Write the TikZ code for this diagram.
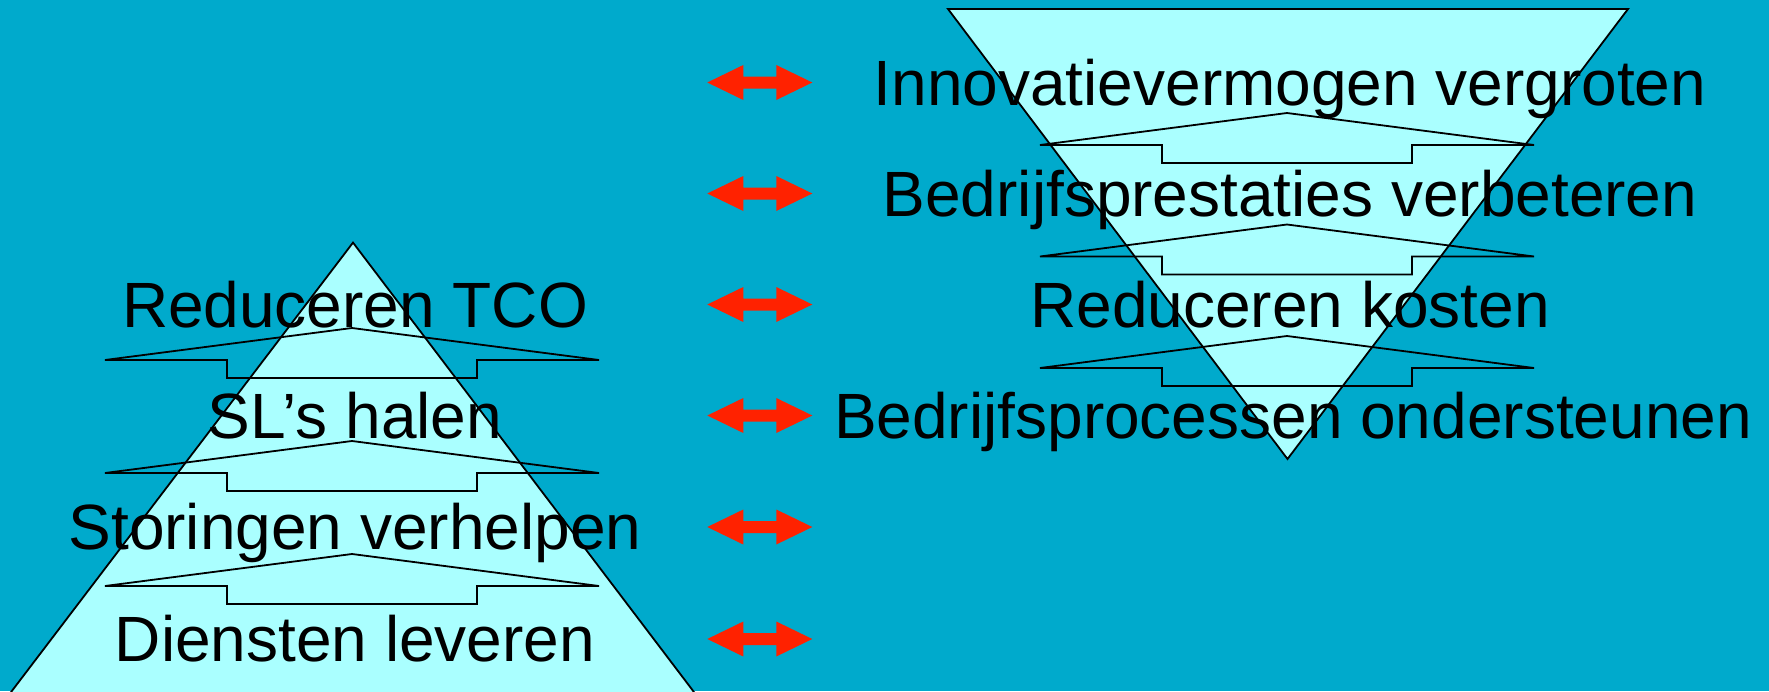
\documentclass[tikz,border=0pt]{standalone}
\usepackage{fontspec}
\setmainfont{Liberation Sans}
\definecolor{bg}{RGB}{0,170,204}
\definecolor{pale}{RGB}{170,255,255}
\definecolor{redarr}{RGB}{255,34,0}
\newcommand\levelarrow[2]{%
  \draw[levelshape] (#1,#2) -- ++(247,32) -- ++(-122,0) -- ++(0,18) -- ++(-250,0) -- ++(0,-18) -- ++(-122,0) -- cycle;}
\newcommand\dblarrow[2]{%
  \fill[redarr] (#1-52.5,#2) -- (#1-16.5,#2-17.5) -- (#1-16.5,#2-6) -- (#1+16.5,#2-6) -- (#1+16.5,#2-17.5) -- (#1+52.5,#2) -- (#1+16.5,#2+17.5) -- (#1+16.5,#2+6) -- (#1-16.5,#2+6) -- (#1-16.5,#2+17.5) -- cycle;}
\begin{document}
\begin{tikzpicture}[x=1pt,y=-1pt,
  lbl/.style={font=\fontsize{64}{70}\selectfont, anchor=base, inner sep=0pt},
  pyramid/.style={fill=pale, draw=black, line width=1.8pt, line join=miter},
  levelshape/.style={draw=black, line width=1.8pt, line join=miter}]
\fill[bg] (0,0) rectangle (1769,691);
\useasboundingbox (0,0) rectangle (1769,691);
\clip (0,0) rectangle (1769,691);
% left pyramid
\draw[pyramid] (5,700) -- (353,242.6) -- (700,700) -- cycle;
\levelarrow{352}{328}
\levelarrow{352}{441}
\levelarrow{352}{554}
% right inverted pyramid
\draw[pyramid] (948,9) -- (1628,9) -- (1287.5,459) -- cycle;
\levelarrow{1287}{113}
\levelarrow{1287}{224.5}
\levelarrow{1287}{336}
% red double arrows
\dblarrow{759.8}{82.5}
\dblarrow{759.8}{193.5}
\dblarrow{759.8}{304.5}
\dblarrow{759.8}{415.5}
\dblarrow{759.8}{527}
\dblarrow{759.8}{639}
% left labels
\node[lbl] (l1) at (355,327) {Reduceren TCO};
\node[lbl] (l2) at (355,438) {SL’s halen};
\node[lbl] (l3) at (355,549.5) {Storingen verhelpen};
\node[lbl] (l4) at (355,661.5) {Diensten leveren};
% right labels
\node[lbl] (r1) at (1290,105) {Innovatievermogen vergroten};
\node[lbl] (r2) at (1290,216) {Bedrijfsprestaties verbeteren};
\node[lbl] (r3) at (1290,327) {Reduceren kosten};
\node[lbl] (r4) at (1293,438) {Bedrijfsprocessen ondersteunen};
\end{tikzpicture}
\end{document}
